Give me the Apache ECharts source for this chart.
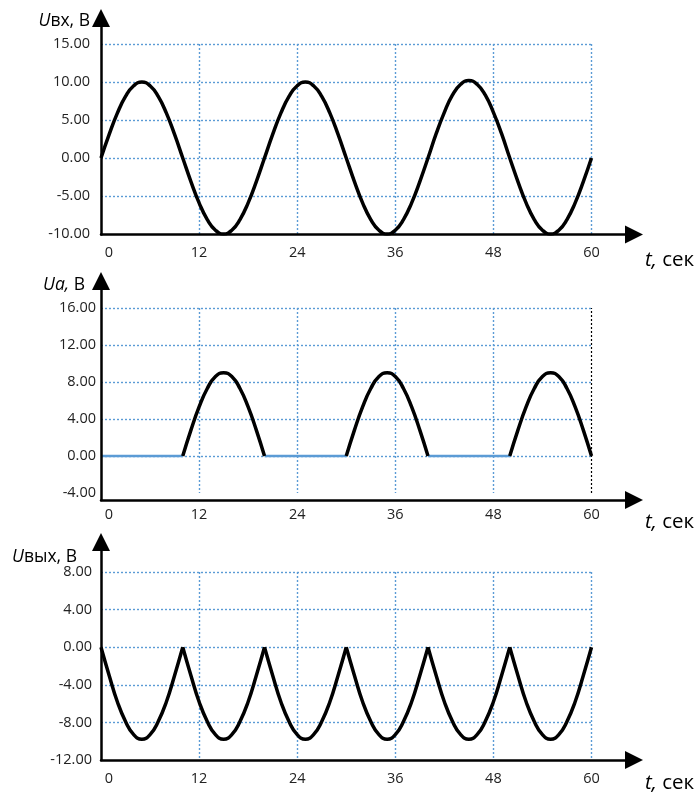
<!DOCTYPE html>
<html>
<head>
<meta charset="utf-8">
<script src="https://cdn.jsdelivr.net/npm/echarts@6/dist/echarts.min.js"></script>
<style>
html,body{margin:0;padding:0;background:#fff;}
#chart{width:700px;height:794px;}
</style>
</head>
<body>
<div id="chart"></div>
<script>
// time samples, seconds
const tSec = [0,1,2,3,4,5,6,7,8,9,10,11,12,13,14,15,16,17,18,19,20,21,22,23,24,25,26,27,28,29,30,
  31,32,33,34,35,36,37,38,39,40,41,42,43,44,45,46,47,48,49,50,51,52,53,54,55,56,57,58,59,60];
// input voltage Uвх, В
const uIn = [0,3.1,5.9,8.1,9.5,10,9.5,8.1,5.9,3.1,
  0,-3.1,-5.9,-8.1,-9.5,-10,-9.5,-8.1,-5.9,-3.1,
  0,3.1,5.9,8.1,9.5,10,9.5,8.1,5.9,3.1,
  0,-3.1,-5.9,-8.1,-9.5,-10,-9.5,-8.1,-5.9,-3.1,
  0,3.2,6.0,8.3,9.7,10.2,9.7,8.3,6.0,3.2,
  0,-3.1,-5.9,-8.1,-9.5,-10,-9.5,-8.1,-5.9,-3.1,
  0];
// Ua, В : zero (blue) parts
const uaOff = [0,0,0,0,0,0,0,0,0,0,0,null,null,null,null,null,null,null,null,null,
  0,0,0,0,0,0,0,0,0,0,0,null,null,null,null,null,null,null,null,null,
  0,0,0,0,0,0,0,0,0,0,0,null,null,null,null,null,null,null,null,null,null];
// Ua, В : conducting (black) half-waves
const uaOn = [null,null,null,null,null,null,null,null,null,null,
  0,2.8,5.3,7.3,8.6,9.0,8.6,7.3,5.3,2.8,
  0,null,null,null,null,null,null,null,null,null,
  0,2.8,5.3,7.3,8.6,9.0,8.6,7.3,5.3,2.8,
  0,null,null,null,null,null,null,null,null,null,
  0,2.8,5.3,7.3,8.6,9.0,8.6,7.3,5.3,2.8,
  0];
// output voltage Uвых, В
const uOut = [0,-3.0,-5.8,-7.9,-9.3,-9.8,-9.3,-7.9,-5.8,-3.0,
  0,-3.0,-5.8,-7.9,-9.3,-9.8,-9.3,-7.9,-5.8,-3.0,
  0,-3.0,-5.8,-7.9,-9.3,-9.8,-9.3,-7.9,-5.8,-3.0,
  0,-3.0,-5.8,-7.9,-9.3,-9.8,-9.3,-7.9,-5.8,-3.0,
  0,-3.0,-5.8,-7.9,-9.3,-9.8,-9.3,-7.9,-5.8,-3.0,
  0,-3.0,-5.8,-7.9,-9.3,-9.8,-9.3,-7.9,-5.8,-3.0,
  0];
// tick labels
const xTicks = [0,12,24,36,48,60];
const yTicks1 = [-10,-5,0,5,10,15];
const yTicks2 = [-4,0,4,8,12,16];
const yTicks3 = [-12,-8,-4,0,4,8];
const titleItalic = ['U','Ua,','U'];
const titleRest = ['вх, В',' В','вых, В'];

const FONT = "'Open Sans', 'Liberation Sans', sans-serif";
const GRID_BLUE = '#5b9bd5';

const pair = arr => tSec.map((t,i)=>[t, arr[i]]);

// split output into arches at zero points so the cusps stay sharp
function arches(arr){
  const out = []; let cur = [];
  tSec.forEach((t,i)=>{
    cur.push([t, arr[i]]);
    if (arr[i] === 0 && cur.length > 1){ out.push(cur); cur = [[t, arr[i]]]; }
  });
  if (cur.length > 1) out.push(cur);
  return out;
}

const panels = [
  {main:{top:44,height:190}, ov:{top:18,height:216.5}, yt:yTicks1, ym:11, xm:11, tY:21, tX:90, unitY:260},
  {main:{top:308,height:185}, ov:{top:281,height:219}, yt:yTicks2, ym:5, xm:14, tY:285, tX:85, unitY:522},
  {main:{top:572,height:188}, ov:{top:542,height:218}, yt:yTicks3, ym:9, xm:11, tY:557, tX:77, unitY:783}
];

const gridLine = {color:GRID_BLUE, width:1.4, type:[2,2]};
const grid=[], xAxis=[], yAxis=[], graphic=[];
panels.forEach((p,k)=>{
  grid.push({left:101, width:490.5, top:p.main.top, height:p.main.height});
  grid.push({left:101, width:533, top:p.ov.top, height:p.ov.height});
  const gi = k*2;
  xAxis.push({
    type:'value', gridIndex:gi, min:xTicks[0], max:xTicks[xTicks.length-1], interval:xTicks[1]-xTicks[0],
    axisLine:{show:false}, axisTick:{show:false},
    axisLabel:{margin:p.xm, fontSize:14.5, fontFamily:FONT, color:'#222',
      formatter:v=> v===0 ? '{z|0}' : String(v),
      rich:{z:{padding:[0,0,0,16], fontSize:14.5, fontFamily:FONT, color:'#222'}}},
    splitLine:{show:true, showMinLine:false, showMaxLine: k!==1, lineStyle:gridLine}
  });
  yAxis.push({
    type:'value', gridIndex:gi, min:p.yt[0], max:p.yt[p.yt.length-1], interval:p.yt[1]-p.yt[0],
    axisLine:{show:false}, axisTick:{show:false},
    axisLabel:{margin:p.ym, fontSize:14.5, fontFamily:FONT, color:'#222', formatter:v=>v.toFixed(2)},
    splitLine:{show:true, showMinLine:false, lineStyle:gridLine}
  });
  xAxis.push({
    type:'value', gridIndex:gi+1, min:0, max:1, z:5,
    axisLine:{show:true, onZero:false, symbol:['none','triangle'], symbolSize:[18,18], lineStyle:{color:'#000', width:2.5}},
    axisTick:{show:false}, axisLabel:{show:false}, splitLine:{show:false}
  });
  yAxis.push({
    type:'value', gridIndex:gi+1, min:0, max:1, z:5,
    axisLine:{show:true, onZero:false, symbol:['none','triangle'], symbolSize:[18,18], lineStyle:{color:'#000', width:2.5}},
    axisTick:{show:false}, axisLabel:{show:false}, splitLine:{show:false}
  });
  graphic.push({type:'text', x:p.tX, y:p.tY, z:10,
    style:{text:'{i|'+titleItalic[k]+'}{n|'+titleRest[k]+'}', align:'right', verticalAlign:'middle',
      rich:{i:{fontStyle:'italic', fontSize:17.5, fontFamily:FONT, fill:'#000'}, n:{fontSize:17.5, fontFamily:FONT, fill:'#000'}}}});
  graphic.push({type:'text', x:645, y:p.unitY, z:10,
    style:{text:'{i|t,}{n| сек}', align:'left', verticalAlign:'middle',
      rich:{i:{fontStyle:'italic', fontSize:20.5, fontFamily:FONT, fill:'#000'}, n:{fontSize:20.5, fontFamily:FONT, fill:'#000'}}}});
});

const black = {color:'#000', width:3.5};
const series = [
  {type:'line', xAxisIndex:0, yAxisIndex:0, data:pair(uIn), smooth:true, showSymbol:false, lineStyle:black, z:3},
  {type:'line', xAxisIndex:2, yAxisIndex:2, data:pair(uaOff), showSymbol:false, connectNulls:false,
    lineStyle:{color:GRID_BLUE, width:2.5}, z:3,
    markLine:{silent:true, symbol:'none', label:{show:false}, lineStyle:{color:'#000', width:1.2, type:[2,2]},
      data:[{xAxis:xTicks[xTicks.length-1]}]}},
  {type:'line', xAxisIndex:2, yAxisIndex:2, data:pair(uaOn), smooth:true, showSymbol:false, connectNulls:false, lineStyle:black, z:4}
];
arches(uOut).forEach(seg=>{
  series.push({type:'line', xAxisIndex:4, yAxisIndex:4, data:seg, smooth:true, showSymbol:false, lineStyle:black, z:3});
});

const chart = echarts.init(document.getElementById('chart'), null, {renderer:'canvas'});
chart.setOption({animation:false, backgroundColor:'#fff', grid, xAxis, yAxis, series, graphic});
</script>
</body>
</html>
